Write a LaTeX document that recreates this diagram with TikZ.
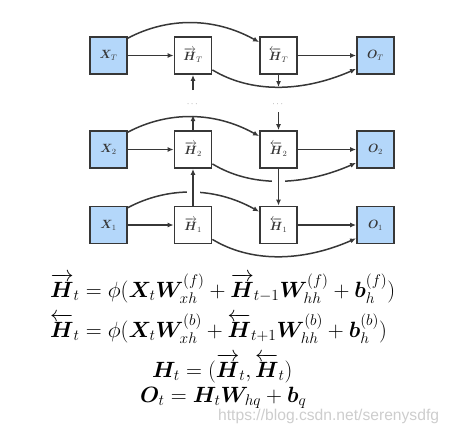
\RequirePackage{fix-cm}
\documentclass[tikz,border=0pt]{standalone}
\usepackage{amsmath}
\usepackage{bm}
\usepackage{fontspec}
\usetikzlibrary{arrows.meta,calc}
\definecolor{boxblue}{RGB}{180,215,250}
\definecolor{linegray}{RGB}{55,55,55}
\definecolor{labelgray}{RGB}{55,55,55}
\definecolor{wmgray}{RGB}{205,205,205}
\newcommand{\eqone}{$\overrightarrow{\bm H}_t = \phi(\bm X_t \bm W_{xh}^{(f)} + \overrightarrow{\bm H}_{t-1}\bm W_{hh}^{(f)} + \bm b_h^{(f)})$}
\newsavebox{\eqmeasure}
\sbox{\eqmeasure}{\fontsize{20}{24}\selectfont\eqone}
\pgfmathsetmacro{\eqscale}{345*1.00374/(\the\wd\eqmeasure)}
\begin{document}
\begin{tikzpicture}[x=1bp,y=-1bp,
  base/.style={draw=linegray, line width=1.8bp, minimum size=37bp, inner sep=0pt,
    text=labelgray, font=\fontsize{12}{14}\selectfont},
  inbox/.style={base, fill=boxblue},
  hbox/.style={base, fill=white},
  conn/.style={draw=linegray, line width=1.5bp, -{Latex[length=6bp,width=5bp]}},
  halo/.style={draw=white, line width=13bp, shorten <=3bp, shorten >=3bp},
  dotsstyle/.style={text=gray, font=\fontsize{9}{10}\selectfont, inner sep=0pt},
  eq/.style={anchor=base west, inner sep=0pt, font=\fontsize{20}{24}\selectfont},
  wm/.style={anchor=base west, inner sep=0pt, text=wmgray, font=\fontspec{Liberation Sans}\fontsize{15.7}{18}\selectfont}]
\useasboundingbox (0,0) rectangle (449,431);
% nodes
\node[inbox] (XT) at (108.5,55.5) {$\bm{X}_{T}$};
\node[hbox]  (HTf) at (193,55.5) {$\overrightarrow{\bm{H}}_{T}$};
\node[hbox]  (HTb) at (278.5,55.5) {$\overleftarrow{\bm{H}}_{T}$};
\node[inbox] (OT) at (375.5,55.5) {$\bm{O}_{T}$};
\node[inbox] (X2) at (108.5,149.5) {$\bm{X}_{2}$};
\node[hbox]  (H2f) at (193,149.5) {$\overrightarrow{\bm{H}}_{2}$};
\node[hbox]  (H2b) at (278.5,149.5) {$\overleftarrow{\bm{H}}_{2}$};
\node[inbox] (O2) at (375.5,149.5) {$\bm{O}_{2}$};
\node[inbox] (X1) at (108.5,225) {$\bm{X}_{1}$};
\node[hbox]  (H1f) at (193,225) {$\overrightarrow{\bm{H}}_{1}$};
\node[hbox]  (H1b) at (278.5,225) {$\overleftarrow{\bm{H}}_{1}$};
\node[inbox] (O1) at (375.5,225) {$\bm{O}_{1}$};
\node[dotsstyle] (df) at (193,104) {$\cdots$};
\node[dotsstyle] (db) at (278.5,104) {$\cdots$};
\coordinate (dfa) at (193,115);
\coordinate (dfb) at (193,90);
\coordinate (dba) at (278.5,87);
\coordinate (dbb) at (278.5,112);
% horizontal arrows
\foreach \r in {T,2,1}{
  \draw[conn] (X\r) -- (H\r f);
  \draw[conn] (H\r b) -- (O\r);
}
% curves
\foreach \r in {T,2,1}{
  \draw[conn] ($(X\r.north east)+(0,2)$) .. controls +(40,-21) and +(-45,-25) .. ($(H\r b.north west)+(0,6)$);
  \draw[conn] ($(H\r f.south east)+(0,-5)$) .. controls +(38,23) and +(-55,24) .. ($(O\r.south west)+(0,-6)$);
}
% vertical arrows
\draw[halo] (H1f) -- (H2f);
\draw[conn] (H1f) -- (H2f);
\draw[halo] (H2b) -- (H1b);
\draw[conn] (H2b) -- (H1b);
\draw[conn] (H2f) -- (dfa);
\draw[conn] (dfb) -- (HTf);
\draw[conn] (HTb) -- (dba);
\draw[conn] (dbb) -- (H2b);
% equations
\node[eq] (e1) at (50,297) {\scalebox{\eqscale}{\eqone}};
\node[eq] (e2) at (50,337) {\scalebox{\eqscale}{$\overleftarrow{\bm H}_t = \phi(\bm X_t \bm W_{xh}^{(b)} + \overleftarrow{\bm H}_{t+1}\bm W_{hh}^{(b)} + \bm b_h^{(b)})$}};
\node[eq] (e3) at (152,377) {\scalebox{\eqscale}{$\bm H_t = (\overrightarrow{\bm H}_t, \overleftarrow{\bm H}_t)$}};
\node[eq] (e4) at (140,402) {\scalebox{\eqscale}{$\bm O_t = \bm H_t \bm W_{hq} + \bm b_q$}};
\node[wm] (w) at (218,420) {https://blog.csdn.net/serenysdfg};
\end{tikzpicture}
\end{document}
